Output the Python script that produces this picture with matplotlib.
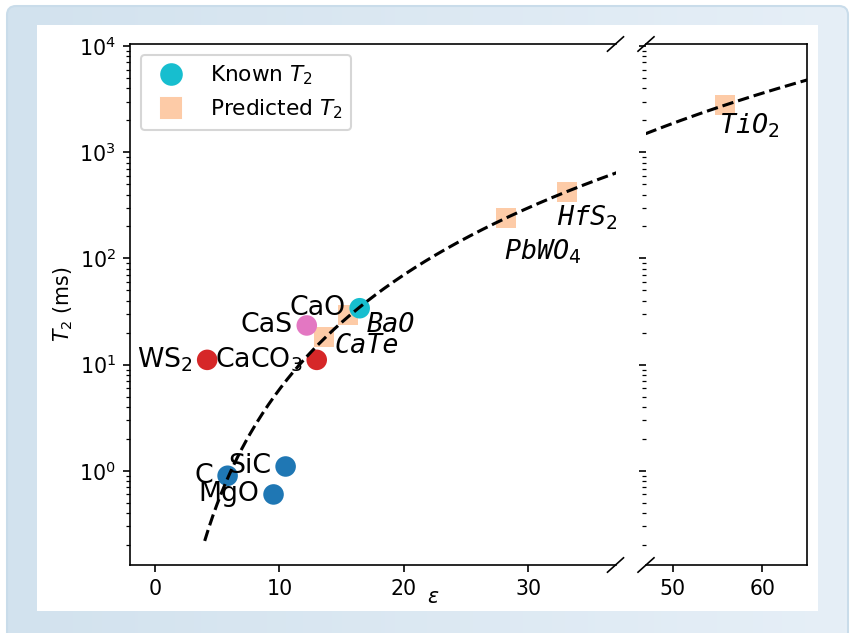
import numpy as np
import matplotlib
matplotlib.use("Agg")
import matplotlib.pyplot as plt
from matplotlib.lines import Line2D
from matplotlib.patches import FancyBboxPatch, Rectangle
from matplotlib.colors import LinearSegmentedColormap

# known materials
known_names = ['C', 'SiC', 'MgO', 'WS$_2$', 'CaCO$_3$', 'CaS', 'CaO']
known_eps = [5.84, 10.5, 9.53, 4.2, 13.0, 12.2, 16.45]
known_t2 = [0.9, 1.1, 0.6, 11.1, 11.1, 23.4, 34.0]
known_colors = ['tab:blue', 'tab:blue', 'tab:blue', 'tab:red', 'tab:red',
                'tab:pink', 'tab:cyan']

# predicted materials
pred_names = ['CaTe', 'BaO', 'PbWO$_4$', 'HfS$_2$', 'TiO$_2$']
pred_eps = [13.6, 15.55, 28.17, 33.12, 55.86]
pred_t2 = [18.1, 29.5, 238.0, 423.0, 2786.0]

# power law fit T2 = a * eps**b
fit_a = 10 ** -2.817
fit_b = 3.584
fit_range = (4.0, 70.0)

peach = '#fdcba7'

W, H, DPI = 856, 633, 148
fig = plt.figure(figsize=(W / DPI, H / DPI), dpi=DPI)
fig.patch.set_facecolor('white')

# page background (light blue frame around the figure)
bg = fig.add_axes([0, 0, 1, 1], zorder=-10)
bg.axis('off')
grad = np.linspace(0, 1, 256).reshape(1, -1)
cmap = LinearSegmentedColormap.from_list('bgblue', ['#d2e2ee', '#e6eff7'])
frame = FancyBboxPatch((7, 6), 841, 700, boxstyle='round,pad=0,rounding_size=9',
                       facecolor='none', edgecolor='#c9dcea', lw=1)
bg.add_patch(frame)
im = bg.imshow(grad, extent=(7, 848, 706, 6), cmap=cmap, aspect='auto')
im.set_clip_path(frame)
bg.add_patch(Rectangle((37, 25), 781, 586, facecolor='white', edgecolor='none'))
bg.set_xlim(0, W)
bg.set_ylim(H, 0)

# broken x axis: two panels
ax1 = fig.add_axes([130 / W, 1 - 565 / H, 485.5 / W, 521 / H])
ax2 = fig.add_axes([646 / W, 1 - 565 / H, 161 / W, 521 / H], sharey=ax1)

eps_fit = np.linspace(*fit_range, 400)
t2_fit = fit_a * eps_fit ** fit_b

pred_offsets = [(5, -4), (9, -5), (-1, -16), (-5, -12.6), (-3, -10.2)]

for ax in (ax1, ax2):
    ax.scatter(pred_eps, pred_t2, marker='s', s=100, color=peach, linewidths=0)
    ax.scatter(known_eps, known_t2, marker='o', s=100, c=known_colors, linewidths=0)
    ax.plot(eps_fit, t2_fit, 'k--')
    for name, x, y in zip(known_names, known_eps, known_t2):
        ax.annotate(name, (x, y), xytext=(-7, 0), textcoords='offset points',
                    ha='right', va='center', fontsize=13)
    for name, x, y, off in zip(pred_names, pred_eps, pred_t2, pred_offsets):
        ax.annotate(name, (x, y), xytext=off, textcoords='offset points',
                    ha='left', va='center', fontsize=13,
                    family='DejaVu Sans Mono', style='italic')

ax1.set_yscale('log')
ax1.set_ylim(0.13, 1.045e4)
ax1.set_xlim(-2, 37)
ax2.set_xlim(47, 65)
ax1.set_xticks([0, 10, 20, 30])
ax2.set_xticks([50, 60])

ax1.spines['right'].set_visible(False)
ax2.spines['left'].set_visible(False)
ax1.tick_params(axis='y', which='both', right=False)
ax2.tick_params(axis='y', which='both', left=True, right=False, labelleft=False)

# diagonal break marks, same pixel size on both panels
for ax, xs in ((ax1, 1.0), (ax2, 0.0)):
    bb = ax.get_position()
    dx = 8.0 / (bb.width * W)
    dy = 7.2 / (bb.height * H)
    kw = dict(transform=ax.transAxes, color='k', clip_on=False, lw=0.8)
    ax.plot((xs - dx, xs + dx), (-dy, dy), **kw)
    ax.plot((xs - dx, xs + dx), (1 - dy, 1 + dy), **kw)

ax1.set_ylabel('$T_2$ (ms)', labelpad=2)
fig.text(433 / W, 1 - 597 / H, r'$\varepsilon$', ha='center', va='center', fontsize=10)

handles = [Line2D([], [], ls='none', marker='o', ms=10, color='tab:cyan'),
           Line2D([], [], ls='none', marker='s', ms=10, color=peach)]
ax1.legend(handles, ['Known $T_2$', 'Predicted $T_2$'], loc='upper left',
           fontsize=10.5)

fig.savefig('out.png', dpi=DPI)
